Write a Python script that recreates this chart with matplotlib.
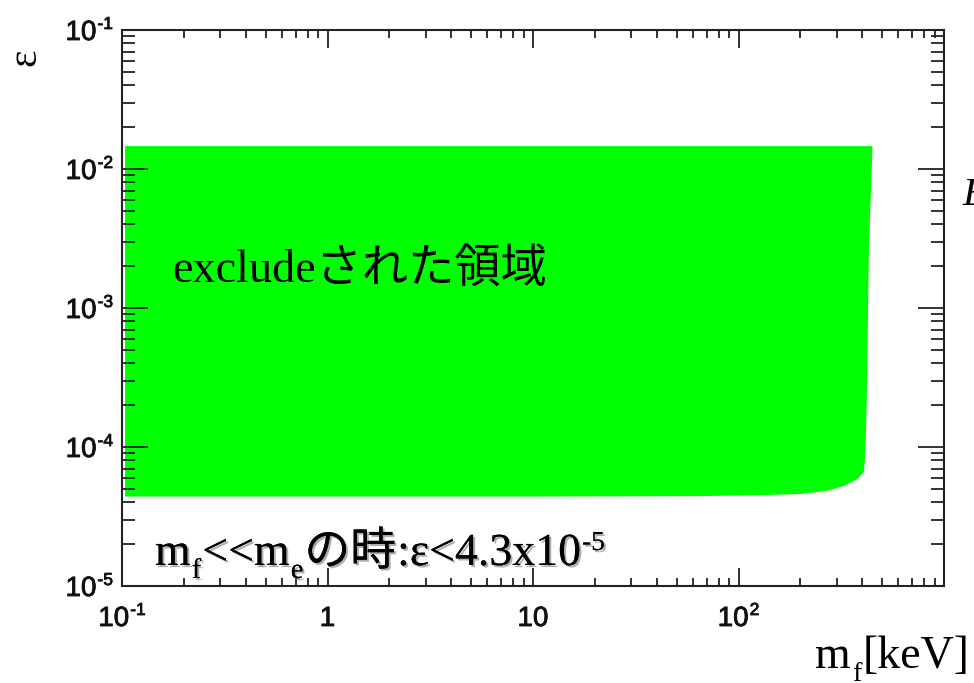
import matplotlib
matplotlib.use('Agg')
import matplotlib.pyplot as plt
from matplotlib.ticker import FixedLocator, LogLocator, NullFormatter
from matplotlib.transforms import IdentityTransform
import matplotlib.patheffects as pe

# ---------------- data ----------------
# boundary of the excluded region (mf in keV, epsilon), traced around the region
boundary_mf = [0.1035, 1, 10, 65.3, 138.5, 200.4, 271.6, 325, 380, 407, 412, 417, 421, 431, 449, 0.1035]
boundary_eps = [4.40e-5, 4.40e-5, 4.40e-5, 4.43e-5, 4.52e-5, 4.59e-5, 4.85e-5, 5.24e-5, 5.89e-5,
                6.61e-5, 8.05e-5, 1.26e-4, 2.18e-4, 2.61e-3, 1.46e-2, 1.46e-2]

x_ticks = [0.1, 1, 10, 100, 1000]
x_tick_base = ['10', '1', '10', '10', '']
x_tick_exp = ['-1', '', '', '2', '']
y_ticks = [1e-5, 1e-4, 1e-3, 1e-2, 1e-1]
y_tick_base = ['10', '10', '10', '10', '10']
y_tick_exp = ['-5', '-4', '-3', '-2', '-1']

region_label = 'excludeされた領域'
y_title = 'ε'
x_title_main = 'm'
x_title_sub = 'f'
x_title_unit = '[keV]'
limit_parts = ['m', 'f', '<<m', 'e', 'の時', ':ε<4.3x10', '-5']

# ---------------- figure ----------------
W, H = 974, 683
fig = plt.figure(figsize=(W / 100, H / 100), dpi=100)
ax = fig.add_axes([122 / W, 1 - 586 / H, (944 - 122) / W, (586 - 30) / H])
ax.set_xscale('log')
ax.set_yscale('log')
ax.set_xlim(0.1, 1000)
ax.set_ylim(1e-5, 1e-1)

ax.fill(boundary_mf, boundary_eps, color='#00ff00', lw=0, zorder=1)

ax.xaxis.set_major_locator(FixedLocator(x_ticks))
ax.xaxis.set_major_formatter(NullFormatter())
ax.xaxis.set_minor_locator(LogLocator(base=10, subs=range(2, 10), numticks=50))
ax.xaxis.set_minor_formatter(NullFormatter())
ax.yaxis.set_major_locator(FixedLocator(y_ticks))
ax.yaxis.set_major_formatter(NullFormatter())
ax.yaxis.set_minor_locator(LogLocator(base=10, subs=range(2, 10), numticks=50))
ax.yaxis.set_minor_formatter(NullFormatter())

tc = '#222222'
ax.tick_params(axis='both', which='both', direction='in', top=True, right=True,
               color=tc, width=1.3)
ax.tick_params(axis='x', which='major', length=13)
ax.tick_params(axis='x', which='minor', length=6)
ax.tick_params(axis='y', which='major', length=18.5)
ax.tick_params(axis='y', which='minor', length=9.5)
for sp in ax.spines.values():
    sp.set_linewidth(1.5)
    sp.set_color(tc)

renderer = fig.canvas.get_renderer()
serif = 'Liberation Serif'
sans = 'Liberation Sans'
cjk = 'Noto Sans CJK JP'
BIG = 33
LAB = 20
EXP = 12.5
bold_look = [pe.withStroke(linewidth=0.6, foreground='#111111')]


def power_label(base, exp, x_disp, base_y_disp, align):
    """ROOT-like tick label: base digits plus small raised exponent."""
    if not base:
        return
    t1 = fig.text(0, base_y_disp, base, transform=IdentityTransform(), fontsize=LAB,
                  family=sans, va='baseline', ha='left', color='#111111', path_effects=bold_look)
    w1 = t1.get_window_extent(renderer).width
    w2 = 0
    t2 = None
    if exp:
        t2 = fig.text(0, base_y_disp + 11, exp, transform=IdentityTransform(), fontsize=EXP,
                      family=sans, va='baseline', ha='left', color='#111111', path_effects=bold_look)
        w2 = t2.get_window_extent(renderer).width + 1
    total = w1 + w2
    x0 = x_disp - total / 2 if align == 'center' else x_disp - total
    t1.set_x(x0)
    if t2 is not None:
        t2.set_x(x0 + w1 + 1)


ax_bottom_disp = ax.transAxes.transform((0, 0))[1]
ax_left_disp = ax.transAxes.transform((0, 0))[0]
for v, b, e in zip(x_ticks, x_tick_base, x_tick_exp):
    xd = ax.transData.transform((v, 1e-3))[0]
    power_label(b, e, xd, ax_bottom_disp - 40, 'center')
for v, b, e in zip(y_ticks, y_tick_base, y_tick_exp):
    yd = ax.transData.transform((1, v))[1]
    power_label(b, e, ax_left_disp - 9, yd - 10, 'right')


def draw_pieces(x0, y_img, pieces, **kw):
    x = x0
    for s, fam, size, dy in pieces:
        t = fig.text(x, H - y_img + dy, s, transform=IdentityTransform(), fontsize=size,
                     family=fam, va='baseline', ha='left', **kw)
        bb = t.get_window_extent(renderer)
        x = bb.x1 + 1


# region label
fig.text(172, H - 283, region_label, transform=IdentityTransform(), fontsize=33.3,
         family=[serif, cjk], va='baseline', ha='left')

# limit text with drop shadow
shadow = [pe.withSimplePatchShadow(offset=(1.5, -1.5), shadow_rgbFace='0.55', alpha=0.7), pe.Normal()]
draw_pieces(155, 565, [
    (limit_parts[0], serif, BIG, 0),
    (limit_parts[1], serif, BIG * 0.62, -13),
    (limit_parts[2], serif, BIG, 0),
    (limit_parts[3], serif, BIG * 0.62, -13),
    (limit_parts[4], cjk, BIG, 0),
    (limit_parts[5], serif, BIG, 0),
    (limit_parts[6], serif, BIG * 0.6, 15),
], path_effects=shadow)

# x title
draw_pieces(815, 668, [
    (x_title_main, serif, BIG, 0),
    (x_title_sub, serif, BIG * 0.62, -13),
    (x_title_unit, serif, BIG, 0),
])

# y title
fig.text(25, H - 57, y_title, transform=IdentityTransform(), fontsize=30, family=serif,
         rotation=90, ha='center', va='center')

# cut-off italic E at right edge
fig.text(962, H - 205, 'E', transform=IdentityTransform(), fontsize=29, family=serif,
         style='italic', ha='left', va='baseline')

fig.savefig('out.png', dpi=100)
